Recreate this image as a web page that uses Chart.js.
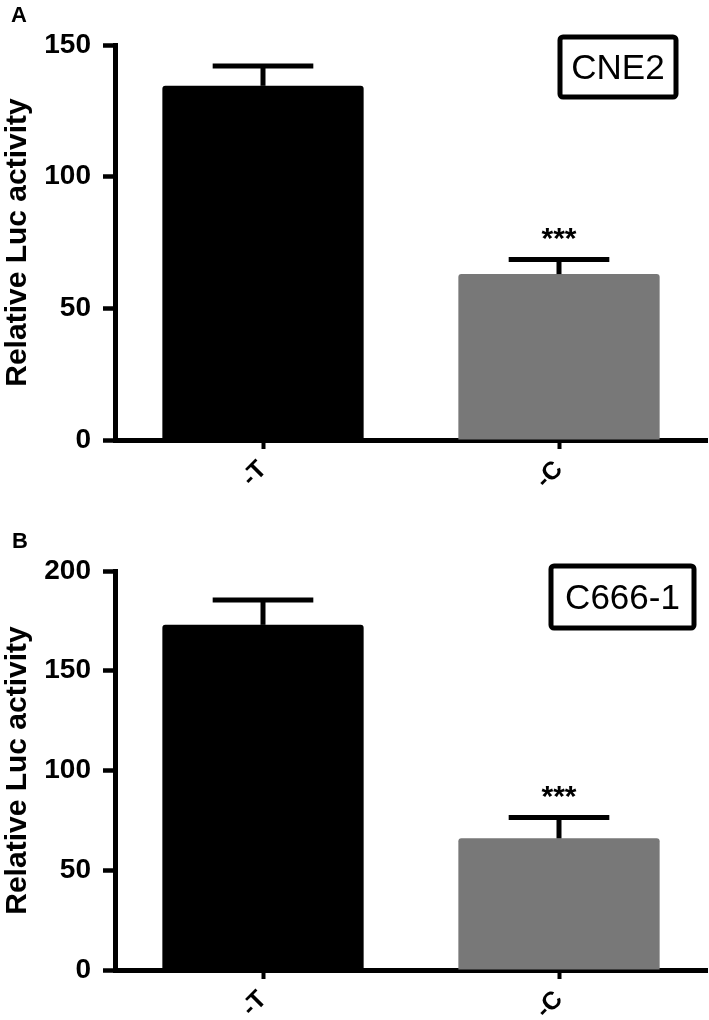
<!DOCTYPE html>
<html><head><meta charset="utf-8">
<script src="https://cdn.jsdelivr.net/npm/chart.js@4"></script>
<style>
html,body{margin:0;padding:0;background:#fff;}
#wrapA{position:absolute;left:0;top:0;width:709px;height:500px;}
#wrapB{position:absolute;left:0;top:500px;width:709px;height:520px;}
</style></head><body>
<div id="wrapA"><canvas id="cA"></canvas></div>
<div id="wrapB"><canvas id="cB"></canvas></div>
<script>
const categories = ['-T', '-C'];
const valuesA = [134.5, 63];
const errorsA = [7.5, 5.5];
const valuesB = [173, 66];
const errorsB = [12.5, 10.5];
const ticksA = [0, 50, 100, 150];
const ticksB = [0, 50, 100, 150, 200];
const sigA = ['', '***'];
const sigB = ['', '***'];
const yTitle = 'Relative Luc activity';
const barColors = ['#000000', '#787878'];

const FONT = '"Liberation Sans", Arial, Helvetica, sans-serif';

function overlayPlugin(cfg) {
  return {
    id: 'overlay',
    afterDatasetsDraw(chart) {
      const ctx = chart.ctx;
      const meta = chart.getDatasetMeta(0);
      const ys = chart.scales.y;
      ctx.save();
      ctx.strokeStyle = '#000';
      ctx.fillStyle = '#000';
      meta.data.forEach((bar, i) => {
        const top = cfg.values[i] + cfg.errors[i];
        const yTop = ys.getPixelForValue(top);
        const yBar = ys.getPixelForValue(cfg.values[i]);
        const half = bar.width / 4;
        ctx.lineWidth = 5;
        ctx.lineCap = 'butt';
        ctx.beginPath();
        ctx.moveTo(bar.x, yBar);
        ctx.lineTo(bar.x, yTop);
        ctx.stroke();
        ctx.beginPath();
        ctx.moveTo(bar.x - half, yTop);
        ctx.lineTo(bar.x + half, yTop);
        ctx.stroke();
        if (cfg.sig[i]) {
          ctx.font = 'bold 30px ' + FONT;
          ctx.textAlign = 'center';
          ctx.textBaseline = 'middle';
          ctx.fillText(cfg.sig[i], bar.x, yTop - 20);
        }
      });
      // panel letter
      ctx.font = 'bold 22px ' + FONT;
      ctx.textAlign = 'left';
      ctx.textBaseline = 'alphabetic';
      ctx.fillText(cfg.letter, cfg.letterX, cfg.letterY);
      // cell line box
      const b = cfg.box;
      ctx.lineWidth = 5;
      ctx.beginPath();
      if (ctx.roundRect) ctx.roundRect(b.x, b.y, b.w, b.h, 3); else ctx.rect(b.x, b.y, b.w, b.h);
      ctx.stroke();
      ctx.font = '35px ' + FONT;
      ctx.textAlign = 'center';
      ctx.textBaseline = 'middle';
      ctx.fillText(cfg.label, b.x + b.w / 2, b.y + b.h / 2 + 2);
      ctx.restore();
    }
  };
}

function makeChart(id, cfg) {
  return new Chart(document.getElementById(id), {
    type: 'bar',
    data: {
      labels: categories,
      datasets: [{
        data: cfg.values,
        backgroundColor: barColors,
        borderWidth: 0,
        borderRadius: 3,
        barPercentage: 0.68,
        categoryPercentage: 1
      }]
    },
    options: {
      responsive: true,
      maintainAspectRatio: false,
      animation: false,
      events: [],
      layout: { padding: { left: 0, top: cfg.padTop, right: 2, bottom: 0 } },
      plugins: { legend: { display: false }, tooltip: { enabled: false } },
      scales: {
        x: {
          offset: true,
          grid: { offset: false, drawOnChartArea: false, tickLength: 9, tickWidth: 4, tickColor: '#000' },
          border: { display: true, width: 5, color: '#000' },
          ticks: { color: '#000', font: { family: FONT, size: 25, weight: 'bold' }, minRotation: 45, maxRotation: 45, padding: 6 },
          afterFit(s) { s.height = cfg.xHeight; }
        },
        y: {
          min: 0, max: cfg.max,
          grid: { drawOnChartArea: false, tickLength: 12, tickWidth: 4.5, tickColor: '#000' },
          border: { display: true, width: 5, color: '#000' },
          ticks: { color: '#000', font: { family: FONT, size: 28, weight: 'bold' }, padding: 12 },
          afterBuildTicks(s) { s.ticks = cfg.ticks.map(v => ({ value: v })); },
          title: { display: true, text: yTitle, color: '#000', font: { family: FONT, size: 30, weight: 'bold' }, padding: 0 },
          afterFit(s) { s.width = 115; }
        }
      }
    },
    plugins: [overlayPlugin(cfg)]
  });
}

makeChart('cA', {
  values: valuesA, errors: errorsA, sig: sigA, ticks: ticksA, max: 150,
  padTop: 45, xHeight: 60, letter: 'A', letterX: 11, letterY: 22,
  box: { x: 560, y: 37, w: 116, h: 60 }, label: 'CNE2'
});
makeChart('cB', {
  values: valuesB, errors: errorsB, sig: sigB, ticks: ticksB, max: 200,
  padTop: 71, xHeight: 50, letter: 'B', letterX: 12, letterY: 48,
  box: { x: 551, y: 66, w: 143, h: 62 }, label: 'C666-1'
});
</script>
</body></html>
